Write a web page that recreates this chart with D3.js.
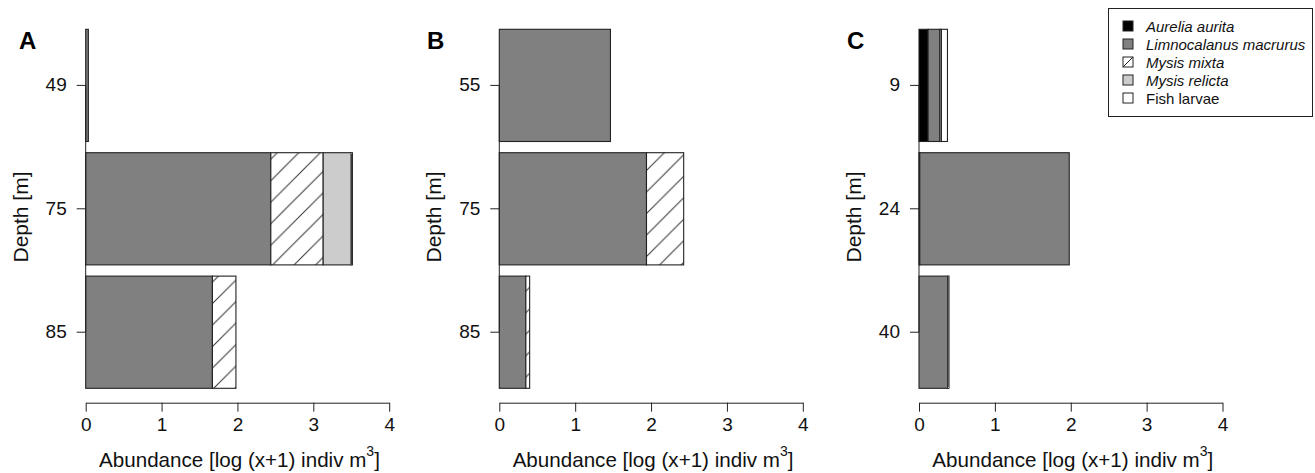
<!DOCTYPE html>
<html lang="en">
<head>
    <meta charset="UTF-8">
    <title>Abundance by depth</title>
    <script src="https://d3js.org/d3.v7.min.js"></script>
    <style>
        body{
            margin: 0;
            background: white;
        }
        svg{
            display: block;
            font-family: "Liberation Sans", Arial, sans-serif;
        }
        .tick text{
            font-size: 19px;
            fill: #111;
        }
    </style>
</head>
<body>
<svg width="1315" height="473"></svg>
<script>

    // species, in stacking order (left to right in each bar)
    let species = ["Aurelia aurita", "Limnocalanus macrurus", "Mysis mixta", "Mysis relicta", "Fish larvae"];
    let italicSpecies = [true, true, true, true, false];
    let xTicks = [0, 1, 2, 3, 4];
    let panelNames = ["A", "B", "C"];

    // panel A
    let depthsA = ["49", "75", "85"];
    let aureliaA = [0, 0, 0];
    let limnoA = [0.035, 2.44, 1.67];
    let mixtaA = [0, 0.69, 0.31];
    let relictaA = [0, 0.37, 0];
    let fishA = [0, 0.015, 0];

    // panel B
    let depthsB = ["55", "75", "85"];
    let aureliaB = [0, 0, 0];
    let limnoB = [1.465, 1.94, 0.35];
    let mixtaB = [0, 0.49, 0.05];
    let relictaB = [0, 0, 0];
    let fishB = [0, 0, 0];

    // panel C
    let depthsC = ["9", "24", "40"];
    let aureliaC = [0.12, 0.01, 0];
    let limnoC = [0.155, 1.97, 0.38];
    let mixtaC = [0, 0, 0];
    let relictaC = [0.02, 0, 0];
    let fishC = [0.08, 0, 0.015];

    let panelDepths = [depthsA, depthsB, depthsC];
    let panelSeries = [
        [aureliaA, limnoA, mixtaA, relictaA, fishA],
        [aureliaB, limnoB, mixtaB, relictaB, fishB],
        [aureliaC, limnoC, mixtaC, relictaC, fishC]
    ];

    let svg = d3.select('svg');
    let edge = "#222";

    // hatching for Mysis mixta
    let defs = svg.append("defs");
    let hs = 21.5;
    let pat = defs.append("pattern")
        .attr("id", "hatch")
        .attr("patternUnits", "userSpaceOnUse")
        .attr("width", hs).attr("height", hs);
    pat.append("rect").attr("width", hs).attr("height", hs).attr("fill", "white");
    pat.append("path")
        .attr("d", "M0," + hs + "L" + hs + ",0M-4,4L4,-4M" + (hs - 4) + "," + (hs + 4) + "L" + (hs + 4) + "," + (hs - 4))
        .attr("stroke", "#333").attr("stroke-width", 1);

    let fills = ["#000000", "#808080", "url(#hatch)", "#cccccc", "#ffffff"];

    // layout
    let panelLeft = [85.7, 499.3, 919];
    let labelX = [19, 427, 847];
    let axisW = 303.5;
    let plotTop = 29.3, plotBottom = 388.3, axisY = 402.7;

    panelNames.forEach(function(name, p){
        let x0 = panelLeft[p];
        let depths = panelDepths[p];
        let series = panelSeries[p];

        let rows = depths.map(function(d, i){
            let r = {depth: d};
            species.forEach(function(s, k){ r[s] = series[k][i]; });
            return r;
        });
        let stacked = d3.stack().keys(species)(rows);

        let xScale = d3.scaleLinear().domain([0, 4]).range([x0, x0 + axisW]);
        let yScale = d3.scaleBand().domain(depths).range([plotTop, plotBottom])
            .paddingInner(0.1 / 1.1).paddingOuter(0);

        let g = svg.append("g");

        g.selectAll("g.layer")
            .data(stacked)
            .enter().append("g")
            .attr("class", "layer")
            .attr("fill", function(d, i){ return fills[i]; })
            .selectAll("rect")
            .data(function(d){ return d.filter(function(v){ return v[1] - v[0] > 0; }); })
            .enter().append("rect")
            .attr("x", function(d){ return xScale(d[0]); })
            .attr("y", function(d){ return yScale(d.data.depth); })
            .attr("width", function(d){ return xScale(d[1]) - xScale(d[0]); })
            .attr("height", yScale.bandwidth())
            .attr("stroke", edge)
            .attr("stroke-width", 1.1);

        // x axis
        let xAxis = g.append("g")
            .attr("transform", "translate(0," + axisY + ")")
            .call(d3.axisBottom(xScale).tickValues(xTicks).tickFormat(d3.format("d"))
                .tickSize(9).tickSizeOuter(0).tickPadding(6));
        xAxis.selectAll("path, line").attr("stroke", edge);

        // y axis (line only between first and last tick, like R)
        let yAxis = g.append("g")
            .attr("transform", "translate(" + x0 + ",0)")
            .call(d3.axisLeft(yScale).tickSize(9).tickPadding(10));
        yAxis.select(".domain").remove();
        yAxis.selectAll("line").attr("stroke", edge);
        let half = yScale.bandwidth() / 2;
        yAxis.append("line")
            .attr("x1", 0).attr("x2", 0)
            .attr("y1", yScale(depths[0]) + half)
            .attr("y2", yScale(depths[depths.length - 1]) + half)
            .attr("stroke", edge);

        // axis titles
        let xt = g.append("text")
            .attr("x", x0 + axisW / 2 + 2)
            .attr("y", 467)
            .attr("text-anchor", "middle")
            .attr("font-size", 20.6)
            .attr("fill", "#111");
        xt.append("tspan").text("Abundance [log (x+1) indiv m");
        xt.append("tspan").attr("font-size", 14).attr("dy", -11).text("3");
        xt.append("tspan").attr("dy", 11).text("]");

        g.append("text")
            .attr("transform", "translate(" + (x0 - 58) + ",217) rotate(-90)")
            .attr("text-anchor", "middle")
            .attr("font-size", 21)
            .attr("fill", "#111")
            .text("Depth [m]");

        g.append("text")
            .attr("x", labelX[p])
            .attr("y", 49)
            .attr("font-size", 24)
            .attr("font-weight", "bold")
            .attr("fill", "#000")
            .text(name);
    });

    // legend
    let legend = svg.append("g");
    legend.append("rect")
        .attr("x", 1108.5).attr("y", 8.5)
        .attr("width", 204).attr("height", 108)
        .attr("fill", "white").attr("stroke", edge);

    let items = legend.selectAll("g.item")
        .data(species)
        .enter().append("g")
        .attr("class", "item")
        .attr("transform", function(d, i){ return "translate(1123," + (26 + i * 18) + ")"; });
    items.append("rect")
        .attr("x", 0).attr("y", -5)
        .attr("width", 10).attr("height", 10)
        .attr("fill", function(d, i){ return i === 2 ? "white" : fills[i]; })
        .attr("stroke", edge);
    items.filter(function(d, i){ return i === 2; })
        .append("line")
        .attr("x1", 0).attr("y1", 5).attr("x2", 10).attr("y2", -5)
        .attr("stroke", edge);
    items.append("text")
        .attr("x", 23).attr("y", 5.5)
        .attr("font-size", 15)
        .attr("font-style", function(d, i){ return italicSpecies[i] ? "italic" : "normal"; })
        .attr("fill", "#111")
        .text(function(d){ return d; });

</script>
</body>
</html>
